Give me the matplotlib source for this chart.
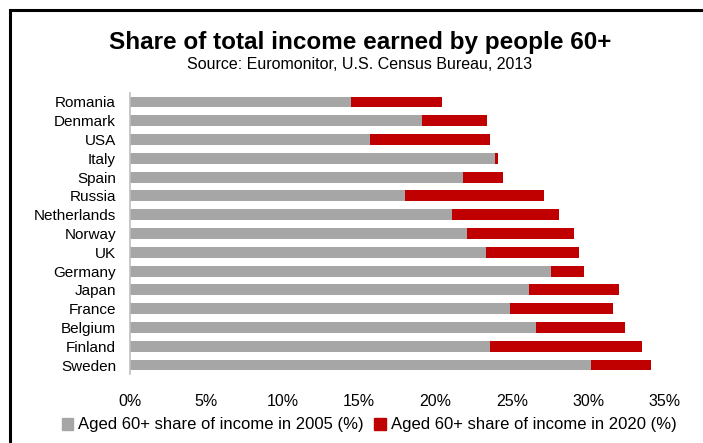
import matplotlib
matplotlib.use("Agg")
import matplotlib.pyplot as plt
from matplotlib.patches import Patch, Rectangle

plt.rcParams['font.family'] = ['Liberation Sans', 'DejaVu Sans']

countries = ['Romania', 'Denmark', 'USA', 'Italy', 'Spain', 'Russia', 'Netherlands',
             'Norway', 'UK', 'Germany', 'Japan', 'France', 'Belgium', 'Finland', 'Sweden']
share_2005 = [14.5, 19.1, 15.7, 23.9, 21.8, 18.0, 21.1, 22.1, 23.3, 27.6, 26.1, 24.9, 26.6, 23.6, 30.2]
share_2020 = [20.4, 23.4, 23.6, 24.1, 24.4, 27.1, 28.1, 29.1, 29.4, 29.7, 32.0, 31.6, 32.4, 33.5, 34.1]
x_ticks = [0, 5, 10, 15, 20, 25, 30, 35]

GREY = '#A6A6A6'
RED = '#C00000'

fig = plt.figure(figsize=(7.03, 4.43), dpi=100)

# outer frame, runs off the right and bottom edges
fig.patches.append(Rectangle((9.5 / 703, -0.1), 1.2, 1 - 10 / 443 + 0.1,
                             transform=fig.transFigure, fill=False,
                             edgecolor='black', linewidth=2.2))

ax = fig.add_axes([130 / 703, (443 - 374.4) / 443, 534.5 / 703, 281.8 / 443])

ypos = list(range(len(countries)))
ax.barh(ypos, share_2020, height=0.58, color=RED, edgecolor='none')
ax.barh(ypos, share_2005, height=0.58, color=GREY, edgecolor='none')

ax.set_ylim(len(countries) - 0.5, -0.5)
ax.set_xlim(0, 35)
ax.set_yticks(ypos)
ax.set_yticklabels(countries, fontsize=11)
ax.set_xticks(x_ticks)
ax.set_xticklabels([f'{t}%' for t in x_ticks], fontsize=11.5)
ax.tick_params(axis='both', length=0)
ax.tick_params(axis='y', pad=10)
ax.tick_params(axis='x', pad=14)

for side in ['top', 'right', 'bottom']:
    ax.spines[side].set_visible(False)
ax.spines['left'].set_color('#BFBFBF')
ax.spines['left'].set_linewidth(1.2)

fig.text(360 / 703, 1 - 42.5 / 443, 'Share of total income earned by people 60+',
         ha='center', va='center', fontsize=17.5, fontweight='bold')
fig.text(360 / 703, 1 - 64.5 / 443, 'Source: Euromonitor, U.S. Census Bureau, 2013',
         ha='center', va='center', fontsize=11.5)

handles = [Patch(color=GREY, label='Aged 60+ share of income in 2005 (%)'),
           Patch(color=RED, label='Aged 60+ share of income in 2020 (%)')]
fig.legend(handles=handles, loc='center', bbox_to_anchor=(369 / 703, 1 - 425 / 443),
           ncol=2, frameon=False, fontsize=12, handlelength=0.7, handleheight=0.7,
           handletextpad=0.3, columnspacing=0.6)

fig.savefig('out.png', dpi=100)
